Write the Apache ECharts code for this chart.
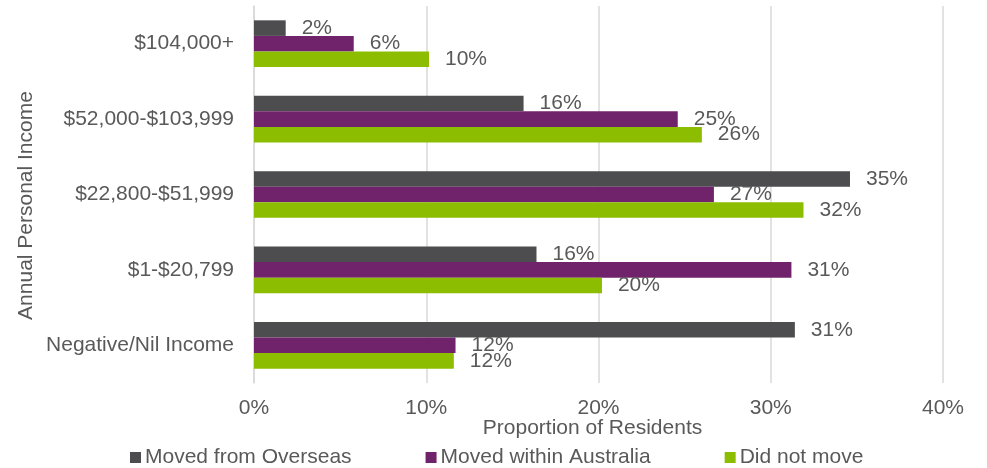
<!DOCTYPE html>
<html>
<head>
<meta charset="utf-8">
<script src="https://cdn.jsdelivr.net/npm/echarts@6/dist/echarts.min.js"></script>
<style>
  html, body { margin: 0; padding: 0; background: #ffffff; }
  #chart { width: 987px; height: 468px; }
</style>
</head>
<body>
<div id="chart"></div>
<script>
// Income bands, listed top to bottom
const categories = ['$104,000+', '$52,000-$103,999', '$22,800-$51,999', '$1-$20,799', 'Negative/Nil Income'];

// Proportion of residents (%) in each income band
const movedFromOverseas = [1.84, 15.65, 34.6, 16.4, 31.4];
const movedWithinAustralia = [5.79, 24.6, 26.7, 31.2, 11.7];
const didNotMove = [10.16, 26.0, 31.9, 20.2, 11.6];

const seriesNames = ['Moved from Overseas', 'Moved within Australia', 'Did not move'];
const xTicks = [0, 10, 20, 30, 40];

const textColor = '#595959';
const fontFamily = '"Liberation Sans", Arial, sans-serif';
const fontSize = 21;
const colors = ['#4d4d4f', '#70226a', '#8cbd00'];

function makeSeries(name, values, color) {
  return {
    name: name,
    type: 'bar',
    data: values,
    barGap: '0%',
    barCategoryGap: '38%',
    itemStyle: { color: color },
    label: {
      show: true,
      position: 'right',
      distance: 16,
      color: textColor,
      fontSize: fontSize,
      fontFamily: fontFamily,
      formatter: p => Math.round(p.value) + '%'
    }
  };
}

const chart = echarts.init(document.getElementById('chart'), null, { renderer: 'canvas' });
chart.setOption({
  animation: false,
  backgroundColor: '#ffffff',
  textStyle: { fontFamily: fontFamily, color: textColor },
  grid: { left: 254, right: 44, top: 6, bottom: 85, containLabel: false },
  legend: {
    left: 125,
    top: 442,
    itemWidth: 11,
    itemHeight: 11,
    itemGap: 74,
    icon: 'rect',
    textStyle: { color: textColor, fontSize: fontSize, fontFamily: fontFamily, padding: [0, 0, 0, -1] },
    data: seriesNames
  },
  xAxis: {
    type: 'value',
    min: xTicks[0],
    max: xTicks[xTicks.length - 1],
    interval: 10,
    name: 'Proportion of Residents',
    nameLocation: 'middle',
    nameGap: 35,
    nameMoveOverlap: false,
    nameTextStyle: { color: textColor, fontSize: fontSize, fontFamily: fontFamily, padding: [0, 12, 0, 0] },
    axisLine: { show: false },
    axisTick: { show: false },
    axisLabel: { color: textColor, fontSize: fontSize, fontFamily: fontFamily, margin: 15, formatter: v => v + '%' },
    splitLine: { show: true, lineStyle: { color: '#d9d9d9', width: 1.5 } }
  },
  yAxis: {
    type: 'category',
    data: categories,
    inverse: true,
    name: 'Annual Personal Income',
    nameLocation: 'middle',
    nameGap: 217,
    nameMoveOverlap: false,
    nameTextStyle: { color: textColor, fontSize: fontSize, fontFamily: fontFamily, padding: [0, 22, 0, 0] },
    axisLine: { show: true, lineStyle: { color: '#d9d9d9', width: 1.5 } },
    axisTick: { show: false },
    axisLabel: { color: textColor, fontSize: fontSize, fontFamily: fontFamily, margin: 20 }
  },
  series: [
    makeSeries(seriesNames[0], movedFromOverseas, colors[0]),
    makeSeries(seriesNames[1], movedWithinAustralia, colors[1]),
    makeSeries(seriesNames[2], didNotMove, colors[2])
  ]
});
</script>
</body>
</html>
